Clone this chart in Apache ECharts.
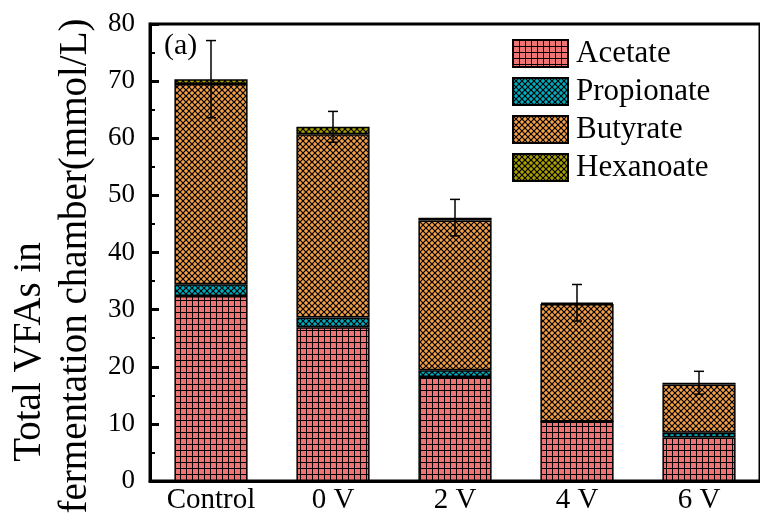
<!DOCTYPE html>
<html>
<head>
<meta charset="utf-8">
<script src="https://cdn.jsdelivr.net/npm/echarts@6/dist/echarts.min.js"></script>
<style>
  html, body { margin: 0; padding: 0; background: #fff; }
  #chart { width: 760px; height: 525px; }
</style>
</head>
<body>
<div id="chart"></div>
<script>
// Volatile fatty acids in the fermentation chamber (mmol/L)
const categories = ['Control', '0 V', '2 V', '4 V', '6 V'];
const acetate    = [32.4, 26.9, 18.2, 10.4, 7.6];
const propionate = [2.05, 1.7, 1.2, 0.0, 0.85];
const butyrate   = [35.05, 32.1, 26.2, 20.6, 8.45];
const hexanoate  = [0.85, 1.3, 0.5, 0.2, 0.3];
const totalError = [6.75, 2.7, 3.2, 3.2, 2.0];
const yTicks     = [0, 10, 20, 30, 40, 50, 60, 70, 80];
const yTitle     = ['Total VFAs in', 'fermentation chamber(mmol/L)'];

const FONT = '"Liberation Serif", "Times New Roman", serif';

// Square grid fill
function gridPattern(fill) {
  const c = document.createElement('canvas');
  c.width = 6; c.height = 6;
  const g = c.getContext('2d');
  g.fillStyle = fill; g.fillRect(0, 0, 6, 6);
  g.fillStyle = '#000';
  g.fillRect(0, 0, 6, 1);
  g.fillRect(0, 0, 1, 6);
  return { image: c, repeat: 'repeat' };
}
// Diagonal cross-hatch fill
function hatchPattern(fill) {
  const c = document.createElement('canvas');
  c.width = 6; c.height = 6;
  const g = c.getContext('2d');
  g.fillStyle = fill; g.fillRect(0, 0, 6, 6);
  g.strokeStyle = '#000'; g.lineWidth = 1.2;
  g.beginPath();
  g.moveTo(-1, -1); g.lineTo(7, 7);
  g.moveTo(7, -1); g.lineTo(-1, 7);
  g.stroke();
  return { image: c, repeat: 'repeat' };
}

const totals = categories.map((_, i) => acetate[i] + propionate[i] + butyrate[i] + hexanoate[i]);
const errData = categories.map((_, i) => [i, totals[i] - totalError[i], totals[i] + totalError[i]]);

function barSeries(name, data, color) {
  return {
    name, type: 'bar', stack: 'vfa', data,
    barWidth: '60%',
    itemStyle: { color, borderColor: '#000', borderWidth: 1.5 },
    emphasis: { disabled: true }
  };
}

const chart = echarts.init(document.getElementById('chart'));
chart.setOption({
  animation: false,
  grid: { left: 150, right: -5, top: 24, bottom: 44, show: true, borderColor: '#000', borderWidth: 3 },
  legend: {
    left: 507, top: 33, orient: 'vertical', icon: 'rect',
    itemWidth: 55, itemHeight: 27, itemGap: 7,
    textStyle: { fontFamily: FONT, fontSize: 31, color: '#000', lineHeight: 27, padding: [0, 0, 0, 3] },
    data: ['Acetate', 'Propionate', 'Butyrate', 'Hexanoate']
  },
  graphic: [
    {
      type: 'text', left: 164, top: 31,
      style: { text: '(a)', font: '30px ' + FONT, fill: '#000' }
    },
    {
      type: 'text', x: 30, y: 352, rotation: Math.PI / 2,
      style: { text: yTitle[0], font: '39px ' + FONT, fill: '#000', align: 'center', verticalAlign: 'middle' }
    },
    {
      type: 'text', x: 76, y: 266, rotation: Math.PI / 2,
      style: { text: yTitle[1], font: '39px ' + FONT, fill: '#000', align: 'center', verticalAlign: 'middle' }
    }
  ],
  xAxis: {
    type: 'category', data: categories,
    axisLine: { lineStyle: { color: '#000', width: 3 } },
    axisTick: { show: true, inside: true, alignWithLabel: true, length: 3, lineStyle: { color: '#888' } },
    axisLabel: { fontFamily: FONT, fontSize: 29, color: '#000', margin: 5 }
  },
  yAxis: {
    type: 'value', min: yTicks[0], max: yTicks[yTicks.length - 1], interval: 10,
    axisLine: { show: true, lineStyle: { color: '#000', width: 3 } },
    axisTick: { show: true, inside: true, length: 9, lineStyle: { color: '#000', width: 3 } },
    minorTick: { show: true, splitNumber: 2, length: 5, lineStyle: { color: '#000', width: 2 } },
    splitLine: { show: false },
    axisLabel: { fontFamily: FONT, fontSize: 27, color: '#000', margin: 15 }
  },
  series: [
    barSeries('Acetate', acetate, gridPattern('#ef7373')),
    barSeries('Propionate', propionate, hatchPattern('#00adbf')),
    barSeries('Butyrate', butyrate, hatchPattern('#f4a048')),
    barSeries('Hexanoate', hexanoate, hatchPattern('#aaa000')),
    {
      type: 'custom', name: 'error', data: errData, z: 10,
      renderItem(params, api) {
        const x = api.value(0);
        const lo = api.coord([x, api.value(1)]);
        const hi = api.coord([x, api.value(2)]);
        const hw = 5;
        const st = { stroke: '#000', lineWidth: 1.5 };
        return {
          type: 'group', children: [
            { type: 'line', shape: { x1: lo[0], y1: lo[1], x2: hi[0], y2: hi[1] }, style: st },
            { type: 'line', shape: { x1: hi[0] - hw, y1: hi[1], x2: hi[0] + hw, y2: hi[1] }, style: st },
            { type: 'line', shape: { x1: lo[0] - hw, y1: lo[1], x2: lo[0] + hw, y2: lo[1] }, style: st }
          ]
        };
      }
    }
  ]
});
</script>
</body>
</html>
